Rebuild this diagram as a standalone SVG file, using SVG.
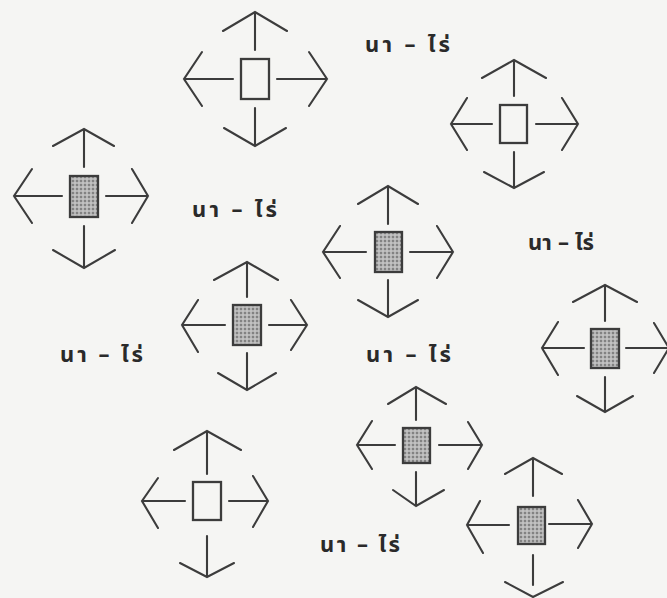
<svg xmlns="http://www.w3.org/2000/svg" width="667" height="598" viewBox="0 0 667 598">
<style>
.ar{fill:none;stroke:#3c3c3c;stroke-width:2.1;stroke-linecap:round;stroke-linejoin:miter}
.box{stroke:#3c3c3c;stroke-width:2.3}
.empty{fill:#f5f5f3}
.shaded{fill:url(#stip)}
.lbl{font-family:"Noto Sans Thai","Noto Sans","DejaVu Sans",sans-serif;font-size:22px;font-weight:bold;fill:#2a2a2a}
</style>
<defs>
<pattern id="stip" width="4" height="4" patternUnits="userSpaceOnUse">
<rect width="4" height="4" fill="#b4b4b4"/>
<circle cx="1" cy="1" r="0.9" fill="#6a6a6a"/>
<circle cx="3" cy="3" r="0.7" fill="#d8d8d8"/>
</pattern>
</defs>
<rect width="667" height="598" fill="#f5f5f3"/>
<g id="connectors">
<path class="ar" d="M255,12V50M223,31L255,12L287,31 M255,108V146M224,128L255,146L286,128 M184,79H233M202,52L184,79L202,106 M277,79H327M309,52L327,79L309,106"/>
<path class="ar" d="M84,129V167M53,146L84,129L114,146 M84,226V268M53,250L84,268L115,250 M14,196H62M32,169L14,196L32,223 M106,196H148M132,169L148,196L132,223"/>
<path class="ar" d="M514,60V96M482,78L514,60L546,78 M514,152V188M484,172L514,188L544,172 M451,124H492M467,98L451,124L467,150 M536,124H578M562,98L578,124L562,150"/>
<path class="ar" d="M388,186V224M358,204L388,186L418,204 M388,280V317M358,300L388,317L418,300 M323,252H366M340,226L323,252L340,278 M410,252H453M437,226L453,252L437,278"/>
<path class="ar" d="M247,262V297M214,280L247,262L278,280 M247,353V390M218,373L247,390L276,373 M182,325H225M198,300L182,325L198,352 M269,325H307M291,300L307,325L291,350"/>
<path class="ar" d="M605,285V321M573,302L605,285L637,302 M605,377V412M577,396L605,412L633,396 M542,348H584M558,322L542,348L558,375 M626,348H669M654,323L669,348L654,373"/>
<path class="ar" d="M207,431V474M174,450L207,431L241,450 M207,536V577M180,563L207,577L234,563 M142,501H185M158,478L142,501L158,528 M229,501H268M253,476L268,501L253,527"/>
<path class="ar" d="M416,387V420M388,404L416,387L446,404 M416,472V506M393,490L416,506L444,490 M357,445H395M372,421L357,445L372,469 M439,445H482M468,422L482,445L468,469"/>
<path class="ar" d="M533,458V496M505,474L533,458L562,474 M533,555V585M505,582L533,597L563,582 M467,525H509M480,501L467,525L483,553 M549,524H592M578,500L592,524L578,548"/>
</g>
<g id="node1"><rect class="box empty" x="241" y="59" width="28" height="40"/></g>
<g id="node2"><rect class="box shaded" x="70" y="176" width="28" height="41"/></g>
<g id="node3"><rect class="box empty" x="500" y="105" width="27" height="38"/></g>
<g id="node4"><rect class="box shaded" x="375" y="232" width="27" height="40"/></g>
<g id="node5"><rect class="box shaded" x="233" y="305" width="28" height="40"/></g>
<g id="node6"><rect class="box shaded" x="591" y="329" width="28" height="39"/></g>
<g id="node7"><rect class="box empty" x="193" y="482" width="28" height="38"/></g>
<g id="node8"><rect class="box shaded" x="403" y="428" width="27" height="35"/></g>
<g id="node9"><rect class="box shaded" x="518" y="507" width="27" height="37"/></g>
<g id="labels">
<text class="lbl" x="365" y="52" textLength="85" lengthAdjust="spacing">นา – ไร่</text>
<text class="lbl" x="192" y="217" textLength="85" lengthAdjust="spacing">นา – ไร่</text>
<text class="lbl" x="528" y="250" textLength="66" lengthAdjust="spacing">นา – ไร่</text>
<text class="lbl" x="60" y="362" textLength="83" lengthAdjust="spacing">นา – ไร่</text>
<text class="lbl" x="366" y="362" textLength="85" lengthAdjust="spacing">นา – ไร่</text>
<text class="lbl" x="320" y="552" textLength="80" lengthAdjust="spacing">นา – ไร่</text>
</g>
</svg>
